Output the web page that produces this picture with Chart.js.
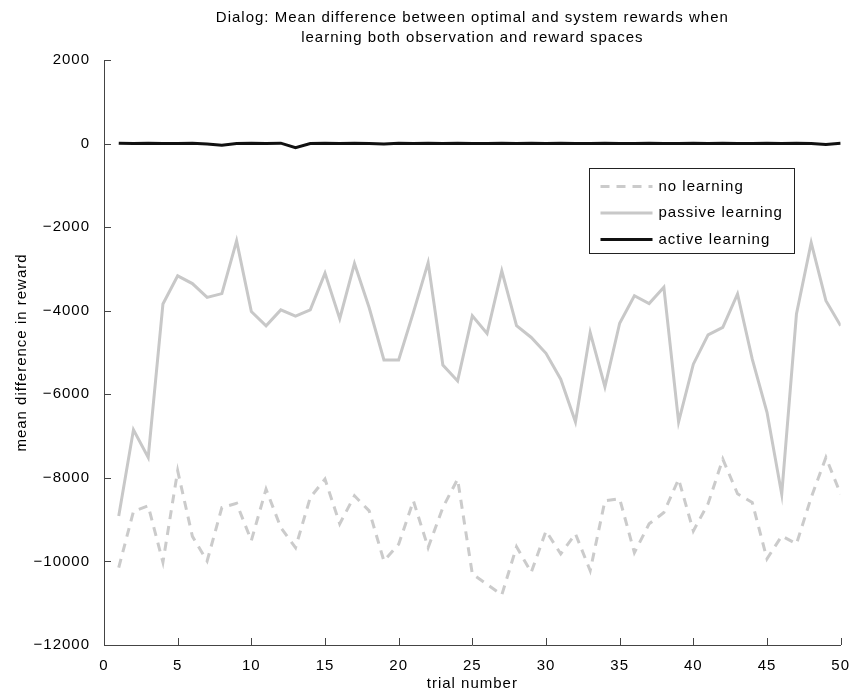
<!DOCTYPE html>
<html>
<head>
<meta charset="utf-8">
<title>Dialog rewards</title>
<script src="https://cdn.jsdelivr.net/npm/chart.js@4.4.1/dist/chart.umd.min.js"></script>
<style>
    html, body { margin: 0; padding: 0; background: #fff; }
    #wrap { width: 853px; height: 693px; }
</style>
</head>
<body>
<div id="wrap"><canvas id="chart" width="853" height="693"></canvas></div>
<script>
// Values (trial 1..50)
const trials = [];
for (let i = 1; i <= 50; i++) trials.push(i);

const titleLines = [
    'Dialog: Mean difference between optimal and system rewards when',
    'learning both observation and reward spaces'
];

const noLearning = [
    -10150, -8800, -8670, -10020, -7830, -9400, -9990, -8710, -8610, -9500,
    -8270, -9190, -9670, -8470, -8030, -9100, -8430, -8790, -9990, -9590,
    -8550, -9670, -8710, -8030, -10300, -10550, -10800, -9650, -10260, -9270,
    -9820, -9340, -10220, -8550, -8500, -9790, -9100, -8830, -8030, -9270,
    -8620, -7550, -8380, -8590, -9940, -9390, -9580, -8470, -7510, -8390
];

const passiveLearning = [
    -8910, -6850, -7510, -3840, -3165, -3350, -3680, -3590, -2330, -4020,
    -4360, -3980, -4130, -3980, -3100, -4190, -2870, -3930, -5180, -5180,
    -4040, -2850, -5300, -5680, -4120, -4545, -3045, -4360, -4640, -5020,
    -5640, -6660, -4520, -5820, -4300, -3640, -3830, -3440, -6660, -5280,
    -4580, -4400, -3600, -5160, -6430, -8390, -4080, -2370, -3760, -4360
];

const activeLearning = [
    10, 0, 10, 0, 0, 10, -10, -40, 0, 10,
    0, 10, -100, 0, 10, 0, 10, 0, -10, 10,
    0, 10, 0, 10, 0, 0, 10, 0, 10, 0,
    10, 0, 0, 10, 0, 0, 10, 0, 0, 10,
    0, 10, 0, 0, 10, 0, 10, 0, -20, 10
];

const xTicks = [0, 5, 10, 15, 20, 25, 30, 35, 40, 45, 50];
const yTicks = [2000, 0, -2000, -4000, -6000, -8000, -10000, -12000];

const FONT = 'Liberation Sans, Arial, Helvetica, sans-serif';

function toPoints(values) {
    return values.map((v, i) => ({ x: trials[i], y: v }));
}

// Set letter spacing to mimic the wide Matlab text
const spacingPlugin = {
    id: 'spacing',
    beforeDraw(chart) {
        chart.ctx.letterSpacing = '1px';
    }
};

// Inward ticks, title and the boxed legend
const decorPlugin = {
    id: 'decor',
    afterDraw(chart) {
        const ctx = chart.ctx;
        const area = chart.chartArea;
        const xs = chart.scales.x;
        const ys = chart.scales.y;
        ctx.save();
        ctx.letterSpacing = '1px';

        // ticks pointing inside
        ctx.strokeStyle = '#444';
        ctx.lineWidth = 1;
        ctx.beginPath();
        xTicks.forEach(t => {
            const px = Math.round(xs.getPixelForValue(t)) + 0.5;
            ctx.moveTo(px, area.bottom);
            ctx.lineTo(px, area.bottom - 7);
        });
        yTicks.forEach(t => {
            const py = Math.round(ys.getPixelForValue(t)) + 0.5;
            ctx.moveTo(area.left, py);
            ctx.lineTo(area.left + 7, py);
        });
        ctx.stroke();

        // title
        ctx.fillStyle = '#000';
        ctx.font = '15px ' + FONT;
        ctx.textAlign = 'center';
        ctx.textBaseline = 'middle';
        const cx = (area.left + area.right) / 2;
        titleLines.forEach((line, i) => ctx.fillText(line, cx, 18 + i * 20));

        // legend
        const box = { x: 589.5, y: 168.5, w: 205, h: 85 };
        ctx.fillStyle = '#fff';
        ctx.fillRect(box.x, box.y, box.w, box.h);
        ctx.strokeStyle = '#222';
        ctx.lineWidth = 1;
        ctx.strokeRect(box.x, box.y, box.w, box.h);
        ctx.textAlign = 'left';
        chart.data.datasets.forEach((ds, i) => {
            const ly = box.y + 18 + i * 26.5;
            ctx.save();
            ctx.strokeStyle = ds.borderColor;
            ctx.lineWidth = ds.borderWidth;
            ctx.setLineDash(ds.borderDash || []);
            ctx.beginPath();
            ctx.moveTo(box.x + 11, ly);
            ctx.lineTo(box.x + 63, ly);
            ctx.stroke();
            ctx.restore();
            ctx.fillStyle = '#000';
            ctx.fillText(ds.label, box.x + 69, ly);
        });
        ctx.restore();
    }
};

const chart = new Chart(document.getElementById('chart').getContext('2d'), {
    type: 'line',
    data: {
        datasets: [
            {
                label: 'no learning',
                data: toPoints(noLearning),
                borderColor: '#cbcbcb',
                borderWidth: 3,
                borderDash: [9, 7],
                order: 3
            },
            {
                label: 'passive learning',
                data: toPoints(passiveLearning),
                borderColor: '#c8c8c8',
                borderWidth: 3,
                order: 2
            },
            {
                label: 'active learning',
                data: toPoints(activeLearning),
                borderColor: '#111',
                borderWidth: 3,
                order: 1
            }
        ]
    },
    options: {
        responsive: false,
        animation: false,
        layout: {
            padding: { top: 60, right: 11, bottom: 0, left: 0 }
        },
        elements: {
            point: { radius: 0 },
            line: { tension: 0 }
        },
        scales: {
            x: {
                type: 'linear',
                min: 0,
                max: 50,
                afterFit(scale) { scale.height = 48; },
                afterBuildTicks(scale) { scale.ticks = xTicks.map(v => ({ value: v })); },
                grid: { display: false },
                border: { display: true, color: '#444', width: 1 },
                ticks: {
                    color: '#000',
                    font: { family: FONT, size: 15 },
                    padding: 4,
                    maxRotation: 0
                },
                title: {
                    display: true,
                    text: 'trial number',
                    color: '#000',
                    font: { family: FONT, size: 15 },
                    padding: { top: 0, bottom: 0 }
                }
            },
            y: {
                min: -12000,
                max: 2000,
                afterFit(scale) { scale.width = 104; },
                afterBuildTicks(scale) { scale.ticks = yTicks.map(v => ({ value: v })); },
                grid: { display: false },
                border: { display: true, color: '#444', width: 1 },
                ticks: {
                    color: '#000',
                    font: { family: FONT, size: 15 },
                    padding: 6,
                    callback: v => (v < 0 ? '\u2212' + Math.abs(v) : String(v))
                },
                title: {
                    display: true,
                    text: 'mean difference in reward',
                    color: '#000',
                    font: { family: FONT, size: 15 },
                    padding: { top: 13, bottom: 0 }
                }
            }
        },
        plugins: {
            legend: { display: false },
            title: { display: false },
            tooltip: { enabled: false }
        }
    },
    plugins: [spacingPlugin, decorPlugin]
});
</script>
</body>
</html>
